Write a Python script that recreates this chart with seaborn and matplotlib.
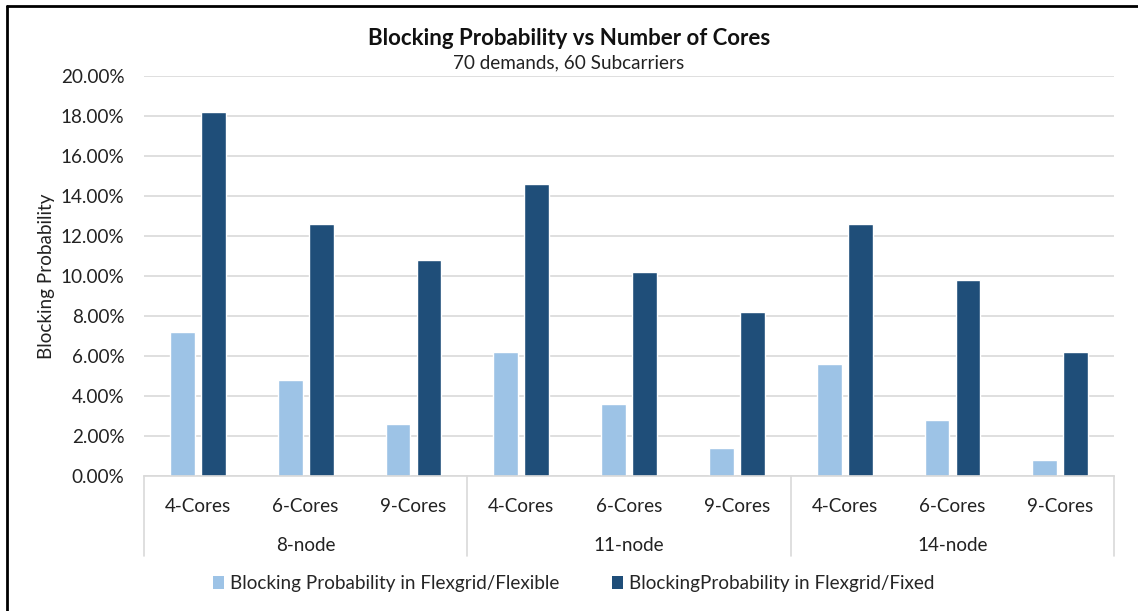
import pandas as pd
import seaborn as sns
import matplotlib.pyplot as plt
from matplotlib.lines import Line2D
from matplotlib.patches import Patch
from matplotlib.ticker import FuncFormatter, MultipleLocator

# data (percent)
nodes = ['8-node', '11-node', '14-node']
cores = ['4-Cores', '6-Cores', '9-Cores']
flexible = [7.2, 4.8, 2.6, 6.2, 3.6, 1.4, 5.6, 2.8, 0.8]
fixed = [18.2, 12.6, 10.8, 14.6, 10.2, 8.2, 12.6, 9.8, 6.2]
series = ['Blocking Probability in Flexgrid/Flexible',
          'BlockingProbability in Flexgrid/Fixed']
colors = ['#9DC3E6', '#1F4E79']

cats = [n + '|' + c for n in nodes for c in cores]
df = pd.DataFrame({
    'cat': cats * 2,
    'value': flexible + fixed,
    'series': [series[0]] * 9 + [series[1]] * 9,
})

sns.set_style('white')
plt.rcParams['font.family'] = ['Lato', 'DejaVu Sans']
fs = 13.6

fig = plt.figure(figsize=(11.38, 6.11), dpi=100)
ax = fig.add_axes([0.1265, 0.221, 0.8525, 0.6546])

sns.barplot(data=df, x='cat', y='value', hue='series', order=cats,
            hue_order=series, palette=colors, width=0.575, gap=0.2,
            saturation=1, ax=ax, legend=False)

ax.set_ylim(0, 20)
ax.set_xlim(-0.5, 8.5)
ax.yaxis.set_major_locator(MultipleLocator(2))
ax.yaxis.set_major_formatter(FuncFormatter(lambda v, p: '%.2f%%' % v))
ax.grid(axis='y', color='#d9d9d9', linewidth=1.2)
ax.set_axisbelow(True)
for s in ['top', 'right', 'left']:
    ax.spines[s].set_visible(False)
ax.spines['bottom'].set_color('#d9d9d9')
ax.spines['bottom'].set_linewidth(1.2)
ax.tick_params(axis='both', length=0, labelsize=fs, colors='#222222')
ax.tick_params(axis='y', pad=14)
ax.tick_params(axis='x', pad=16)
ax.set_xticks(range(9))
ax.set_xticklabels(cores * 3)
ax.set_xlabel('')
ax.set_ylabel('Blocking Probability', fontsize=fs, color='#222222', labelpad=4)

# group labels and separators
tr = ax.get_xaxis_transform()
for i, n in enumerate(nodes):
    ax.text(3 * i + 1, -0.175, n, transform=tr, ha='center', va='center',
            fontsize=fs, color='#222222')
for b in [-0.5, 2.5, 5.5, 8.5]:
    ax.plot([b, b], [0, -0.2], transform=tr, color='#d9d9d9',
            linewidth=1.2, clip_on=False)

fig.text(0.5, 0.937, 'Blocking Probability vs Number of Cores', ha='center',
         va='center', fontsize=16, fontweight='bold', color='#111111')
fig.text(0.5, 0.897, '70 demands, 60 Subcarriers', ha='center', va='center',
         fontsize=fs, color='#222222')

handles = [Patch(facecolor=c, edgecolor='none') for c in colors]
fig.legend(handles, series, loc='center', bbox_to_anchor=(0.504, 0.045),
           ncol=2, frameon=False, fontsize=fs, handlelength=0.6,
           handleheight=0.7, handletextpad=0.3, columnspacing=2.8)

# outer frame (left and top edges)
fig.add_artist(Line2D([0.0065, 0.0065], [0, 0.99], transform=fig.transFigure,
                      color='black', linewidth=2))
fig.add_artist(Line2D([0.0065, 1], [0.99, 0.99], transform=fig.transFigure,
                      color='black', linewidth=2))

fig.savefig('out.png', dpi=100)
